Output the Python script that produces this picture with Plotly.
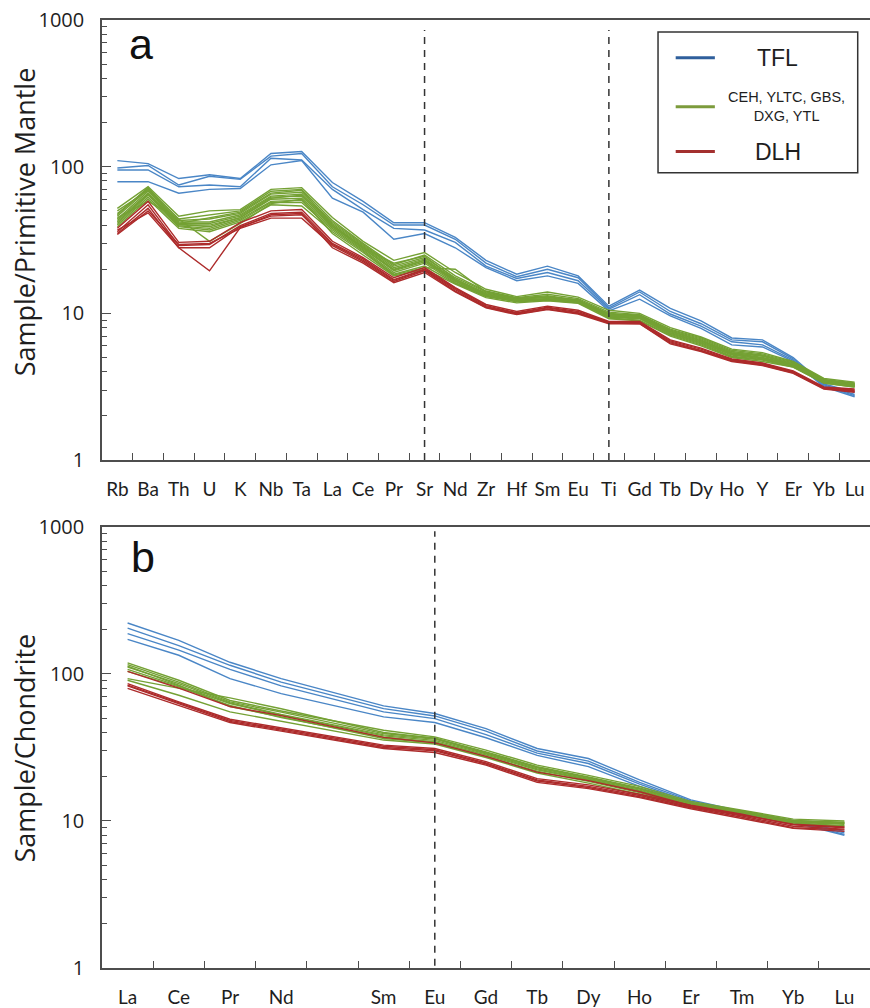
import plotly.graph_objects as go

# ---------------------------------------------------------------
# Element order for the two normalised diagrams
# ---------------------------------------------------------------
PM_ELEMENTS = ["Rb", "Ba", "Th", "U", "K", "Nb", "Ta", "La", "Ce", "Pr", "Sr", "Nd",
               "Zr", "Hf", "Sm", "Eu", "Ti", "Gd", "Tb", "Dy", "Ho", "Y", "Er", "Yb", "Lu"]
REE_ELEMENTS = ["La", "Ce", "Pr", "Nd", "Pm", "Sm", "Eu", "Gd", "Tb", "Dy", "Ho",
                "Er", "Tm", "Yb", "Lu"]
REE_TICK_LABELS = ["La", "Ce", "Pr", "Nd", "", "Sm", "Eu", "Gd", "Tb", "Dy", "Ho",
                   "Er", "Tm", "Yb", "Lu"]
Y_TICKS = [1, 10, 100, 1000]
Y_TICK_LABELS = ["1", "10", "100", "1000"]

# ---------------------------------------------------------------
# (a) Primitive-mantle normalised trace elements
# ---------------------------------------------------------------
TFL_PM = [
    [110, 105, 83, 88, 83, 123, 127, 78, 58, 41.5, 41.5, 33, 23, 18.5, 21, 18, 11.2, 14.4, 10.8, 8.9, 6.8, 6.6, 5.0, 3.3, 2.9],
    [98, 102, 75, 86, 82, 118, 123, 73, 55, 40, 40, 32, 22, 17.8, 20, 17.5, 10.9, 14.0, 10.3, 8.5, 6.6, 6.4, 4.9, 3.25, 2.8],
    [95, 95, 73, 75, 73, 114, 111, 70, 51, 38, 37, 30.5, 21, 17.3, 19, 16.7, 10.7, 13.4, 9.9, 8.2, 6.4, 6.1, 4.8, 3.2, 2.75],
    [79, 79, 66, 70, 71, 103, 110, 61, 49, 32, 35, 28, 20.5, 16.7, 18, 16, 10.4, 12.5, 9.6, 7.9, 6.1, 5.9, 4.7, 3.15, 2.7],
]
CEH_GROUP_PM = [
    [52, 73, 46, 50, 51, 70, 72, 45, 31, 23, 26, 19, 14.6, 13, 14, 12.9, 10.5, 10, 8.0, 6.9, 5.7, 5.4, 4.7, 3.6, 3.4],
    [48, 71, 44, 47, 50, 68, 70, 43, 30, 21.5, 25, 18, 14.2, 12.8, 13.5, 12.6, 10.2, 9.8, 7.8, 6.8, 5.6, 5.3, 4.65, 3.55, 3.35],
    [46, 70, 43, 44, 48, 65, 67, 42, 29.5, 21, 24, 17.5, 14, 12.6, 13, 12.4, 10, 9.7, 7.7, 6.7, 5.5, 5.2, 4.6, 3.5, 3.3],
    [44, 68, 42, 42, 47, 63, 65, 41, 29, 20.5, 23.5, 17, 13.8, 12.5, 12.8, 12.2, 9.9, 9.6, 7.6, 6.6, 5.4, 5.1, 4.55, 3.5, 3.3],
    [43, 66, 41, 41, 46, 62, 63, 40, 28.5, 20, 23, 16.8, 13.5, 12.3, 12.6, 12.1, 9.8, 9.5, 7.5, 6.5, 5.35, 5.0, 4.5, 3.45, 3.25],
    [42, 65, 40.5, 39, 45, 60, 61, 39, 28, 19.5, 22.5, 16.5, 13.3, 12.2, 12.5, 12, 9.6, 9.4, 7.4, 6.4, 5.3, 4.95, 4.45, 3.45, 3.25],
    [41, 64, 39.5, 38, 44, 58, 59, 38, 27, 19, 22, 16.2, 13.1, 12.1, 12.4, 11.9, 9.5, 9.3, 7.3, 6.3, 5.2, 4.9, 4.4, 3.4, 3.2],
    [40, 62, 39, 37, 43, 57, 57, 37, 26.5, 18.5, 21, 16, 13, 12, 12.3, 11.8, 9.4, 9.2, 7.2, 6.2, 5.1, 4.85, 4.35, 3.4, 3.2],
    [39, 60, 38, 36, 42, 55, 54, 36, 26, 18.3, 20.5, 20, 14, 12.7, 13.2, 12.3, 9.3, 9.0, 7.1, 6.1, 5.05, 4.8, 4.3, 3.35, 3.15],
    [45, 58, 44, 31, 41, 56, 60, 35, 25, 18, 20, 15.8, 12.8, 11.8, 12.2, 11.7, 9.2, 8.9, 7.0, 6.0, 5.0, 4.7, 4.3, 3.35, 3.15],
    [50, 69, 41, 45, 49, 66, 69, 40, 28, 22, 24.5, 17.2, 13.6, 12.4, 12.9, 12.3, 9.7, 9.6, 7.5, 6.5, 5.4, 5.15, 4.5, 3.5, 3.3],
    [47, 72, 40, 40, 45, 61, 64, 39, 27.5, 19.8, 23, 16.6, 13.2, 12.1, 12.6, 12.0, 9.5, 9.4, 7.3, 6.3, 5.25, 4.95, 4.4, 3.45, 3.2],
]
DLH_PM = [
    [38, 58, 30.5, 31, 41.5, 50, 51, 31, 24, 17.5, 20.5, 15, 11.5, 10.3, 11.2, 10.5, 8.8, 8.8, 6.6, 5.8, 4.9, 4.6, 4.05, 3.15, 3.05],
    [36, 55, 29, 29.5, 39.6, 48, 49, 30, 23.5, 17, 20, 14.8, 11.3, 10.1, 11, 10.3, 8.7, 8.7, 6.5, 5.7, 4.85, 4.55, 4.0, 3.12, 3.0],
    [35, 52, 28, 28, 39, 46, 47, 29.5, 23, 16.8, 19.8, 14.5, 11.1, 10, 10.9, 10.1, 8.6, 8.6, 6.4, 5.6, 4.8, 4.5, 3.97, 3.1, 2.97],
    [34.5, 50, 29.5, 30, 38, 44.6, 44.6, 29, 22.5, 16.5, 19.5, 14.2, 11, 9.9, 10.7, 10, 8.6, 8.5, 6.3, 5.55, 4.75, 4.45, 3.93, 3.07, 2.93],
    [37, 48.5, 28, 19.5, 38.5, 47, 48, 28, 22, 16.2, 19, 14, 10.9, 9.8, 10.6, 9.9, 8.5, 8.5, 6.2, 5.5, 4.7, 4.4, 3.9, 3.05, 2.9],
]

# ---------------------------------------------------------------
# (b) Chondrite normalised REE (Pm not analysed)
# ---------------------------------------------------------------
TFL_CH = [
    [222, 169, 120, 93, None, 60.6, 53.8, 42.5, 31.1, 26.6, 19.0, 13.9, 11.6, 10.1, 8.5],
    [205, 156, 114.5, 88, None, 58.1, 51.8, 40.8, 29.9, 25.5, 18.3, 13.7, 11.4, 10.0, 8.3],
    [188, 145, 107.5, 83, None, 55.2, 49.7, 38.7, 28.9, 24.6, 17.8, 13.4, 11.2, 9.9, 8.1],
    [172, 134, 93, 73.5, None, 51, 46.7, 36.8, 27.9, 23.4, 17.2, 13.2, 11.1, 9.8, 8.0],
]
CEH_GROUP_CH = [
    [119, 90.6, 66, 56, None, 41.4, 37.3, 30.3, 24, 20.4, 17.2, 13.6, 11.9, 10.3, 10.0],
    [115.6, 88, 64.5, 55, None, 39.3, 36.5, 29.5, 23.4, 19.9, 16.8, 13.3, 11.7, 10.1, 9.8],
    [111.5, 86, 63.5, 53, None, 38.5, 36, 29.0, 23.0, 19.5, 16.5, 13.1, 11.5, 10.0, 9.7],
    [107.5, 83, 62.9, 52.4, None, 37.9, 35.3, 28.6, 22.6, 19.2, 16.2, 12.9, 11.4, 9.9, 9.6],
    [104, 81.6, 61, 50.5, None, 37.2, 34.6, 28.1, 22.3, 19.0, 16.0, 12.8, 11.3, 9.8, 9.5],
    [93, 80, 68.7, 58, None, 40, 36.5, 29.2, 23.2, 19.7, 16.6, 13.2, 11.6, 10.0, 9.7],
    [90.6, 71.6, 55.2, 47.5, None, 35.5, 33.4, 27, 21.2, 18.1, 15.2, 12.4, 11.0, 9.6, 9.2],
    [113, 84, 60, 51, None, 36.4, 34, 27.5, 21.8, 18.6, 15.6, 12.6, 11.1, 9.7, 9.3],
]
DLH_CH = [
    [86, 64.5, 49.2, 43, None, 32.8, 31.1, 25.3, 19.4, 17.6, 15.2, 12.8, 11.1, 9.4, 9.0],
    [84, 63.5, 48.3, 42.2, None, 32.2, 30.5, 24.8, 19.0, 17.2, 14.9, 12.5, 10.8, 9.2, 8.8],
    [82.9, 62.5, 47.5, 41.5, None, 31.6, 30, 24.4, 18.7, 16.9, 14.6, 12.3, 10.6, 9.0, 8.7],
    [79.8, 61.3, 46.7, 40.8, None, 31.1, 29.2, 24, 18.3, 16.6, 14.4, 12.1, 10.4, 8.9, 8.5],
    [104, 80, 60, 52, None, 37, 34, 27.5, 21.5, 18.8, 15.8, 12.7, 11.0, 9.5, 9.1],
]

GROUPS = [
    ("TFL", "#4a86c6", "#2f5f9c"),
    ("CEH, YLTC, GBS,<br>DXG, YTL", "#74a134", "#7c9b3c"),
    ("DLH", "#ad2b2b", "#a3302f"),
]
PANEL_A = [TFL_PM, CEH_GROUP_PM, DLH_PM]
PANEL_B = [TFL_CH, CEH_GROUP_CH, DLH_CH]

AXIS_COLOR = "#4d4d4d"
TEXT_COLOR = "#1e1e1e"

fig = go.Figure()

for (name, color, _), rows in zip(GROUPS, PANEL_A):
    for row in rows:
        fig.add_trace(go.Scatter(
            x=list(range(len(PM_ELEMENTS))), y=row, mode="lines",
            line=dict(color=color, width=1.4), xaxis="x", yaxis="y",
            showlegend=False, hoverinfo="skip"))

for (name, color, _), rows in zip(GROUPS, PANEL_B):
    for row in rows:
        fig.add_trace(go.Scatter(
            x=list(range(len(REE_ELEMENTS))), y=row, mode="lines",
            line=dict(color=color, width=1.4), xaxis="x2", yaxis="y2",
            connectgaps=True, showlegend=False, hoverinfo="skip"))

minor_log_ticks = [m * 10 ** e for e in range(3) for m in range(2, 10)]


def x_axis(n, labels, anchor, size):
    return dict(
        domain=[0, 1], anchor=anchor, range=[-0.5, n - 0.5],
        tickmode="array", tickvals=list(range(n)), ticktext=labels,
        ticks="", showgrid=False, zeroline=False,
        showline=True, linecolor=AXIS_COLOR, linewidth=1.5, mirror=True,
        tickfont=dict(family="Lato", size=size, color=TEXT_COLOR),
        ticklabelstandoff=11,
        minor=dict(tickmode="array", tickvals=[i + 0.5 for i in range(n - 1)],
                   ticks="inside", ticklen=7, tickwidth=1.2, tickcolor=AXIS_COLOR,
                   showgrid=False),
    )


def y_axis(domain, anchor):
    return dict(
        domain=domain, anchor=anchor, type="log", range=[0, 3],
        tickmode="array", tickvals=Y_TICKS, ticktext=Y_TICK_LABELS,
        ticks="inside", ticklen=9, tickwidth=1.2, tickcolor=AXIS_COLOR,
        showgrid=False, zeroline=False,
        showline=True, linecolor=AXIS_COLOR, linewidth=1.5,
        tickfont=dict(family="Open Sans", size=20, color=TEXT_COLOR),
        ticklabelstandoff=12,
        minor=dict(tickmode="array", tickvals=minor_log_ticks, ticks="inside",
                   ticklen=5, tickwidth=1.1, tickcolor=AXIS_COLOR, showgrid=False),
    )


shapes = []
# reference dashed lines at Sr, Ti (a) and Eu (b)
for el in ("Sr", "Ti"):
    xi = PM_ELEMENTS.index(el)
    shapes.append(dict(type="line", xref="x", yref="y domain", x0=xi, x1=xi,
                       y0=0, y1=0.977,
                       line=dict(color="#333333", width=1.5, dash="7px,6px")))
xi = REE_ELEMENTS.index("Eu")
shapes.append(dict(type="line", xref="x2", yref="y2 domain", x0=xi, x1=xi,
                   y0=0.005, y1=0.99,
                   line=dict(color="#333333", width=1.5, dash="7px,6px")))

# legend box in panel (a)
shapes.append(dict(type="rect", xref="x domain", yref="y domain",
                   x0=0.724, x1=0.984, y0=0.653, y1=0.973,
                   line=dict(color="#333333", width=1.5), fillcolor="white"))

annotations = []
legend_rows = [0.914, 0.803, 0.701]
legend_sizes = [23, 14.5, 23]
legend_text_x = [0.880, 0.891, 0.880]
for (name, _, lcolor), yy, fs, tx in zip(GROUPS, legend_rows, legend_sizes, legend_text_x):
    shapes.append(dict(type="line", xref="x domain", yref="y domain",
                       x0=0.747, x1=0.798, y0=yy, y1=yy,
                       line=dict(color=lcolor, width=3)))
    annotations.append(dict(xref="x domain", yref="y domain", x=tx, y=yy,
                            text=name, showarrow=False, xanchor="center",
                            yanchor="middle",
                            font=dict(family="Liberation Sans", size=fs, color=TEXT_COLOR)))

# panel letters
annotations.append(dict(xref="x domain", yref="y domain", x=0.032, y=0.946,
                        text="a", showarrow=False, xanchor="left", yanchor="middle",
                        font=dict(family="Liberation Sans", size=43, color="#111111")))
annotations.append(dict(xref="x2 domain", yref="y2 domain", x=0.035, y=0.932,
                        text="b", showarrow=False, xanchor="left", yanchor="middle",
                        font=dict(family="Liberation Sans", size=43, color="#111111")))

# y-axis titles
for text, ypos in (("Sample/Primitive Mantle", 0.787), ("Sample/Chondrite", 0.232)):
    annotations.append(dict(xref="paper", yref="paper", x=-0.101, y=ypos,
                            text=text, textangle=-90, showarrow=False,
                            xanchor="center", yanchor="middle",
                            font=dict(family="Open Sans", size=27, color=TEXT_COLOR)))

fig.update_layout(
    width=870, height=1008,
    margin=dict(l=102, r=0, t=20, b=38),
    paper_bgcolor="white", plot_bgcolor="white",
    showlegend=False,
    xaxis=x_axis(len(PM_ELEMENTS), PM_ELEMENTS, "y", 19),
    yaxis=y_axis([0.5358, 1.0], "x"),
    xaxis2=x_axis(len(REE_ELEMENTS), REE_TICK_LABELS, "y2", 19),
    yaxis2=y_axis([0.0, 0.4653], "x2"),
    shapes=shapes,
    annotations=annotations,
)

fig.write_html("out.html")
